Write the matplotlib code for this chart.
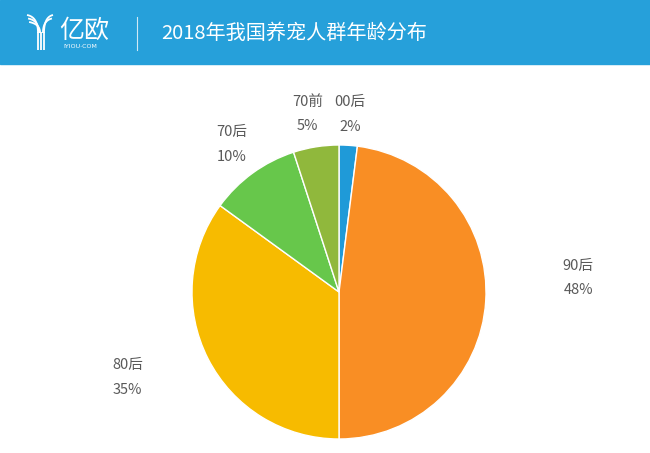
import numpy as np
import matplotlib
matplotlib.use('Agg')
import matplotlib.pyplot as plt
from matplotlib.patches import Rectangle

plt.rcParams['font.family'] = ['Noto Sans CJK SC', 'DejaVu Sans']

# data
title = '2018年我国养宠人群年龄分布'
groups = ['00后', '90后', '80后', '70后', '70前']
shares = [2, 48, 35, 10, 5]
colors = ['#1f9ad8', '#f98e24', '#f7bb00', '#67c74b', '#90b83c']

# label placement (radius factor, angle tweak in degrees)
label_r = [1.21, 1.63, 1.55, 1.24, 1.23]
label_da = [0, 7, -5, 0, 1]

W, H = 650, 453
fig = plt.figure(figsize=(W / 100, H / 100), dpi=100)

# background layer in pixel coordinates for the header
bg = fig.add_axes([0, 0, 1, 1])
bg.set_xlim(0, W)
bg.set_ylim(H, 0)
bg.axis('off')
bg.add_patch(Rectangle((0, 0), W, 64, color='#26a0da'))

# logo: stylised Y
t = np.linspace(0, 1, 30)
for off in [0, 3.5, 7]:
    x0, y0 = 27 + off * 0.3, 15 + off
    bx = (1 - t) ** 2 * x0 + 2 * (1 - t) * t * (38 + off * 0.3) + t ** 2 * (38 + off * 0.3)
    by = (1 - t) ** 2 * y0 + 2 * (1 - t) * t * (y0 + 2) + t ** 2 * 33
    bg.plot(bx, by, color='white', lw=1.3, solid_capstyle='butt')
for off in [0, 3.5]:
    x0, y0 = 53 - off * 0.3, 15 + off
    bx = (1 - t) ** 2 * x0 + 2 * (1 - t) * t * (44 - off * 0.3) + t ** 2 * (44 - off * 0.3)
    by = (1 - t) ** 2 * y0 + 2 * (1 - t) * t * (y0 + 2) + t ** 2 * 33
    bg.plot(bx, by, color='white', lw=1.3, solid_capstyle='butt')
for sx in [38.3, 41, 43.7]:
    bg.plot([sx, sx], [32, 50], color='white', lw=1.3, solid_capstyle='butt')

bg.text(59, 31, '亿欧', color='white', fontsize=18, va='center', ha='left', weight='light')
bg.text(63, 47, 'IYIOU·COM', color='white', fontsize=4.5, va='center', ha='left',
        family='DejaVu Sans')
bg.plot([137, 137], [17, 50], color='#cfe9f6', lw=0.8)
bg.text(161, 33, title, color='white', fontsize=14.5, va='center', ha='left', weight='light')

# pie
cx, cy, r = 339, 292, 147
ax = fig.add_axes([(cx - r) / W, (H - cy - r) / H, 2 * r / W, 2 * r / H])
wedges, _ = ax.pie(shares, colors=colors, startangle=90, counterclock=False,
                   wedgeprops=dict(edgecolor='white', linewidth=1))
ax.set_xlim(-1, 1)
ax.set_ylim(-1, 1)
ax.axis('off')

for w, name, val, lr, da in zip(wedges, groups, shares, label_r, label_da):
    mid = np.deg2rad((w.theta1 + w.theta2) / 2 + da)
    x, y = lr * np.cos(mid), lr * np.sin(mid)
    ax.text(x, y, f'{name}\n{val}%', ha='center', va='center', fontsize=10.5,
            color='#595959', linespacing=1.95, weight='light', clip_on=False)

fig.savefig('out.png', dpi=100)
